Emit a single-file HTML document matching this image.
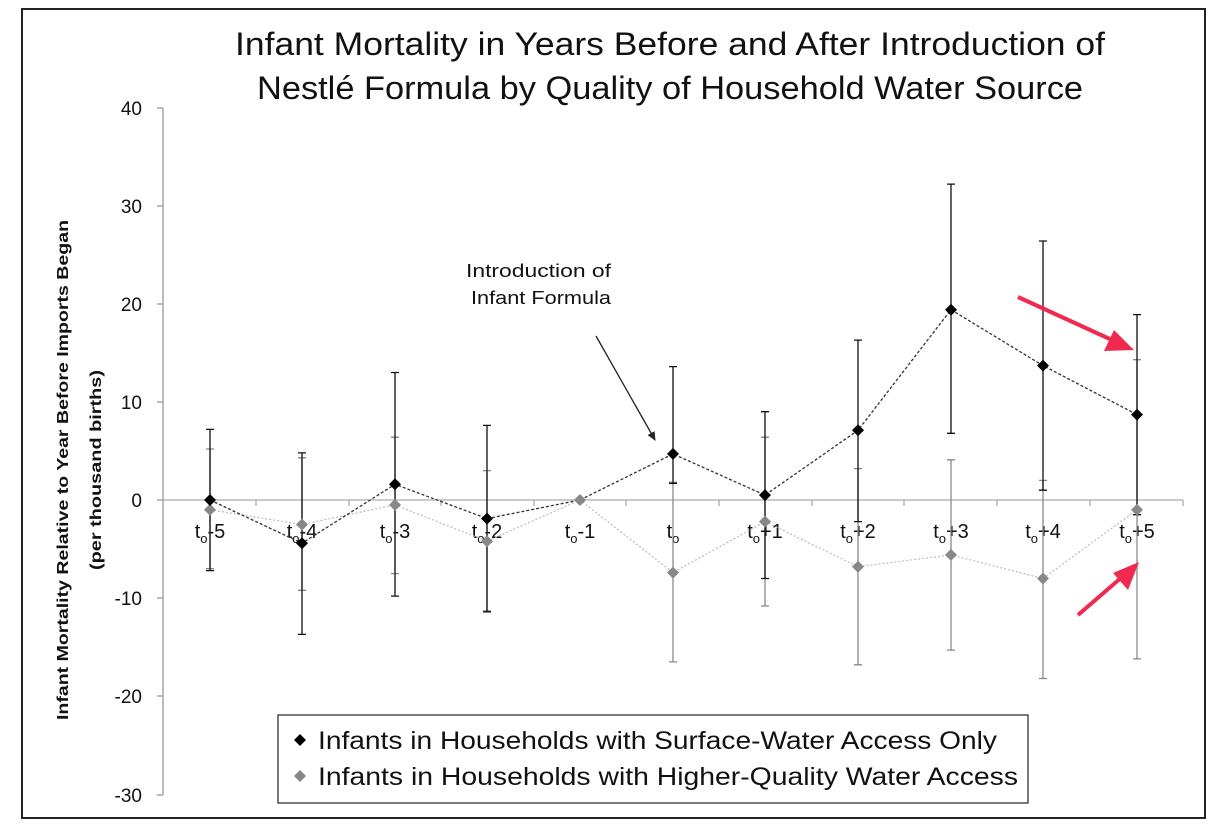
<!DOCTYPE html>
<html><head><meta charset="utf-8"><style>
body{margin:0;background:#fff;}
svg{display:block;font-family:"Liberation Sans",sans-serif;}
</style></head><body>
<svg width="1226" height="827" viewBox="0 0 1226 827">
<defs>
<marker id="ah" markerWidth="10" markerHeight="10" refX="8" refY="5" orient="auto" markerUnits="userSpaceOnUse"><path d="M0,1 L9,5 L0,9 z" fill="#222"/></marker>
</defs>
<rect x="22" y="9" width="1183" height="809" fill="#fff" stroke="#222" stroke-width="2"/>
<text x="235" y="55" font-size="32" textLength="870" lengthAdjust="spacingAndGlyphs" fill="#111">Infant Mortality in Years Before and After Introduction of</text>
<text x="257" y="99" font-size="32" textLength="826" lengthAdjust="spacingAndGlyphs" fill="#111">Nestlé Formula by Quality of Household Water Source</text>
<!-- y axis -->
<line x1="163" y1="108" x2="163" y2="795" stroke="#999" stroke-width="1.3"/>
<g stroke="#999" stroke-width="1.3">
<line x1="157" y1="108" x2="163" y2="108"/><line x1="157" y1="206" x2="163" y2="206"/><line x1="157" y1="304" x2="163" y2="304"/><line x1="157" y1="402" x2="163" y2="402"/><line x1="157" y1="500" x2="163" y2="500"/><line x1="157" y1="598" x2="163" y2="598"/><line x1="157" y1="696" x2="163" y2="696"/><line x1="157" y1="795" x2="163" y2="795"/>
</g>
<g font-size="19" text-anchor="end" fill="#111">
<text x="142" y="115">40</text><text x="142" y="213">30</text><text x="142" y="311">20</text><text x="142" y="409">10</text><text x="142" y="507">0</text><text x="142" y="605">-10</text><text x="142" y="703">-20</text><text x="142" y="802">-30</text>
</g>
<text transform="translate(68,470) rotate(-90)" font-size="16" font-weight="bold" text-anchor="middle" textLength="500" lengthAdjust="spacingAndGlyphs" fill="#111">Infant Mortality Relative to Year Before Imports Began</text>
<text transform="translate(101,470) rotate(-90)" font-size="16" font-weight="bold" text-anchor="middle" textLength="200" lengthAdjust="spacingAndGlyphs" fill="#111">(per thousand births)</text>
<!-- x axis -->
<line x1="163" y1="500" x2="1183" y2="500" stroke="#aaa" stroke-width="1.3"/>
<g stroke="#aaa" stroke-width="1.3">
<line x1="256" y1="500" x2="256" y2="506"/><line x1="349" y1="500" x2="349" y2="506"/><line x1="441" y1="500" x2="441" y2="506"/><line x1="534" y1="500" x2="534" y2="506"/><line x1="626" y1="500" x2="626" y2="506"/><line x1="719" y1="500" x2="719" y2="506"/><line x1="812" y1="500" x2="812" y2="506"/><line x1="904" y1="500" x2="904" y2="506"/><line x1="997" y1="500" x2="997" y2="506"/><line x1="1090" y1="500" x2="1090" y2="506"/><line x1="1183" y1="500" x2="1183" y2="506"/>
</g>
<g font-size="20" text-anchor="middle" fill="#111">
<text x="210" y="538">t<tspan font-size="13" dy="5">o</tspan><tspan dy="-5">-5</tspan></text>
<text x="302" y="538">t<tspan font-size="13" dy="5">o</tspan><tspan dy="-5">-4</tspan></text>
<text x="395" y="538">t<tspan font-size="13" dy="5">o</tspan><tspan dy="-5">-3</tspan></text>
<text x="487" y="538">t<tspan font-size="13" dy="5">o</tspan><tspan dy="-5">-2</tspan></text>
<text x="580" y="538">t<tspan font-size="13" dy="5">o</tspan><tspan dy="-5">-1</tspan></text>
<text x="673" y="538">t<tspan font-size="13" dy="5">o</tspan></text>
<text x="765" y="538">t<tspan font-size="13" dy="5">o</tspan><tspan dy="-5">+1</tspan></text>
<text x="858" y="538">t<tspan font-size="13" dy="5">o</tspan><tspan dy="-5">+2</tspan></text>
<text x="951" y="538">t<tspan font-size="13" dy="5">o</tspan><tspan dy="-5">+3</tspan></text>
<text x="1043" y="538">t<tspan font-size="13" dy="5">o</tspan><tspan dy="-5">+4</tspan></text>
<text x="1137" y="538">t<tspan font-size="13" dy="5">o</tspan><tspan dy="-5">+5</tspan></text>
</g>
<!-- gray error bars -->
<g stroke="#888" stroke-width="1.3">
<path d="M210,449V568.7M206,449h8M206,568.7h8"/>
<path d="M302,457.8V590.3M298,457.8h8M298,590.3h8"/>
<path d="M395,437.2V573.6M391,437.2h8M391,573.6h8"/>
<path d="M487,470.6V610.9M483,470.6h8M483,610.9h8"/>
<path d="M673,482.3V661.9M669,482.3h8M669,661.9h8"/>
<path d="M765,437.2V606M761,437.2h8M761,606h8"/>
<path d="M858,468.6V664.8M854,468.6h8M854,664.8h8"/>
<path d="M951,459.8V650.1M947,459.8h8M947,650.1h8"/>
<path d="M1043,480.4V678.5M1039,480.4h8M1039,678.5h8"/>
<path d="M1137,359.7V658.9M1133,359.7h8M1133,658.9h8"/>
</g>
<!-- black error bars -->
<g stroke="#111" stroke-width="1.3">
<path d="M210,429.4V570.6M206,429.4h8M206,570.6h8"/>
<path d="M302,452.9V634.4M298,452.9h8M298,634.4h8"/>
<path d="M395,372.5V596.1M391,372.5h8M391,596.1h8"/>
<path d="M487,425.4V611.8M483,425.4h8M483,611.8h8"/>
<path d="M673,366.6V483.3M669,366.6h8M669,483.3h8"/>
<path d="M765,411.7V578.5M761,411.7h8M761,578.5h8"/>
<path d="M858,340.1V521.6M854,340.1h8M854,521.6h8"/>
<path d="M951,184.1V433.3M947,184.1h8M947,433.3h8"/>
<path d="M1043,241V490.2M1039,241h8M1039,490.2h8"/>
<path d="M1137,314.6V514.7M1133,314.6h8M1133,514.7h8"/>
</g>
<polyline fill="none" stroke="#bbb" stroke-width="1.2" stroke-dasharray="2,2" points="210,509.8 302,524.5 395,504.9 487,541.2 580,500 673,572.6 765,521.6 858,566.7 951,554.9 1043,578.5 1137,509.8"/>
<polyline fill="none" stroke="#333" stroke-width="1.3" stroke-dasharray="3,2" points="210,500 302,543.2 395,484.3 487,518.6 580,500 673,453.9 765,495.1 858,430.3 951,309.7 1043,365.6 1137,414.6"/>
<g fill="#888">
<path d="M210,503.8l6,6l-6,6l-6,-6z"/><path d="M302,518.5l6,6l-6,6l-6,-6z"/><path d="M395,498.9l6,6l-6,6l-6,-6z"/><path d="M487,535.2l6,6l-6,6l-6,-6z"/><path d="M580,494l6,6l-6,6l-6,-6z"/><path d="M673,566.6l6,6l-6,6l-6,-6z"/><path d="M765,515.6l6,6l-6,6l-6,-6z"/><path d="M858,560.7l6,6l-6,6l-6,-6z"/><path d="M951,548.9l6,6l-6,6l-6,-6z"/><path d="M1043,572.5l6,6l-6,6l-6,-6z"/><path d="M1137,503.8l6,6l-6,6l-6,-6z"/>
</g>
<g fill="#000">
<path d="M210,494l6,6l-6,6l-6,-6z"/><path d="M302,537.2l6,6l-6,6l-6,-6z"/><path d="M395,478.3l6,6l-6,6l-6,-6z"/><path d="M487,512.6l6,6l-6,6l-6,-6z"/><path d="M673,447.9l6,6l-6,6l-6,-6z"/><path d="M765,489.1l6,6l-6,6l-6,-6z"/><path d="M858,424.3l6,6l-6,6l-6,-6z"/><path d="M951,303.7l6,6l-6,6l-6,-6z"/><path d="M1043,359.6l6,6l-6,6l-6,-6z"/><path d="M1137,408.6l6,6l-6,6l-6,-6z"/>
</g>
<text x="466" y="277" font-size="18" textLength="145" lengthAdjust="spacingAndGlyphs" fill="#111">Introduction of</text>
<text x="471" y="304" font-size="18" textLength="140" lengthAdjust="spacingAndGlyphs" fill="#111">Infant Formula</text>
<line x1="596" y1="336" x2="655" y2="440" stroke="#222" stroke-width="1.3" marker-end="url(#ah)"/>
<g stroke="#f0294f" stroke-width="4" fill="#f0294f">
<line x1="1018" y1="297" x2="1112" y2="340"/>
<path d="M1134,350 L1104,351 L1114,330 z" stroke="none"/>
<line x1="1078" y1="615" x2="1122" y2="577"/>
<path d="M1139,562 L1128,590 L1113,573 z" stroke="none"/>
</g>
<rect x="278" y="715" width="750" height="88" fill="#fff" stroke="#333" stroke-width="1.3"/>
<path d="M300,734l6,6l-6,6l-6,-6z" fill="#000"/>
<path d="M300,770l6,6l-6,6l-6,-6z" fill="#888"/>
<text x="318" y="749" font-size="25" textLength="679" lengthAdjust="spacingAndGlyphs" fill="#111">Infants in Households with Surface-Water Access Only</text>
<text x="318" y="785" font-size="25" textLength="700" lengthAdjust="spacingAndGlyphs" fill="#111">Infants in Households with Higher-Quality Water Access</text>
</svg>
</body></html>
